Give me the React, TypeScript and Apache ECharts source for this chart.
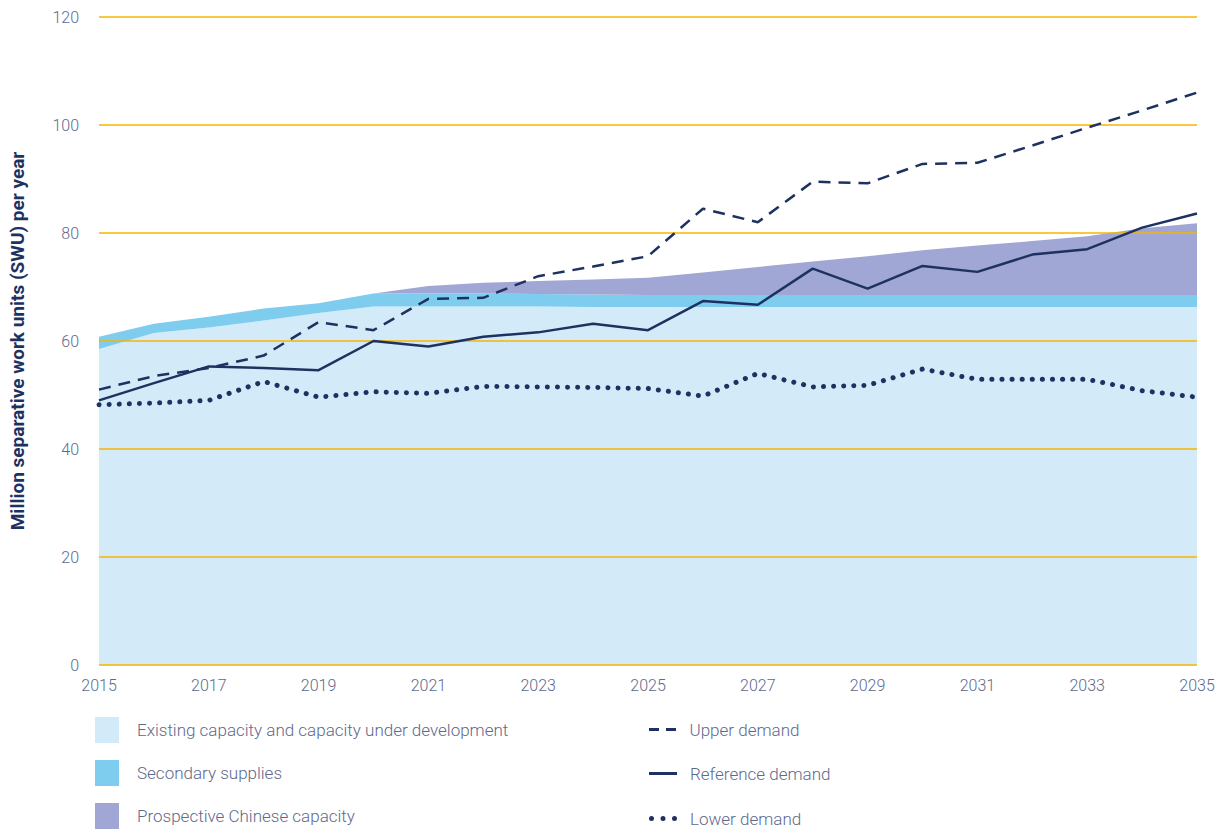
import React, { useEffect, useRef } from "react";
import * as echarts from "echarts";

const years = ["2015","2016","2017","2018","2019","2020","2021","2022","2023","2024","2025","2026","2027","2028","2029","2030","2031","2032","2033","2034","2035"];

const existingCapacity = [58.5, 61.5, 62.5, 63.8, 65.2, 66.4, 66.4, 66.4, 66.4, 66.3, 66.3, 66.3, 66.3, 66.3, 66.3, 66.3, 66.3, 66.3, 66.3, 66.3, 66.3];
const secondarySupplies = [2.3, 1.7, 2.0, 2.2, 1.8, 2.4, 2.4, 2.4, 2.3, 2.3, 2.2, 2.2, 2.2, 2.2, 2.2, 2.2, 2.2, 2.2, 2.2, 2.2, 2.2];
const chineseCapacity = [0, 0, 0, 0, 0, 0, 1.4, 2.0, 2.4, 2.8, 3.2, 4.2, 5.2, 6.2, 7.2, 8.3, 9.2, 10.0, 10.9, 12.4, 13.3];

const upperDemand = [51.0, 53.5, 55.0, 57.3, 63.5, 62.0, 67.8, 68.0, 72.0, 73.8, 75.7, 84.5, 82.0, 89.5, 89.2, 92.8, 93.0, 96.2, 99.5, 102.7, 106.0];
const referenceDemand = [49.0, 52.2, 55.3, 55.0, 54.6, 60.0, 59.0, 60.8, 61.6, 63.2, 62.0, 67.4, 66.7, 73.4, 69.7, 73.9, 72.8, 76.0, 77.0, 81.0, 83.6];
const lowerDemand = [48.2, 48.5, 49.0, 52.5, 49.6, 50.6, 50.3, 51.6, 51.5, 51.4, 51.2, 49.8, 54.0, 51.5, 51.8, 54.8, 52.9, 52.9, 52.9, 50.8, 49.6];

const yTicks = { min: 0, max: 120, interval: 20 };

const NAVY = "#1e3261";
const TEXT = "#5d6a8c";
const GRID = "#f7b500";
const FONT = "Roboto, 'Open Sans', sans-serif";

const ICON_DASH = "path://M0,0h10v3h-10zM17,0h10v3h-10z";
const ICON_SOLID = "path://M0,0h28v3h-28z";
const ICON_DOTS = "path://M0,2.5a2.5,2.5 0 1,0 5,0a2.5,2.5 0 1,0 -5,0zM11.5,2.5a2.5,2.5 0 1,0 5,0a2.5,2.5 0 1,0 -5,0zM23,2.5a2.5,2.5 0 1,0 5,0a2.5,2.5 0 1,0 -5,0z";

export default function App() {
  const ref = useRef<HTMLDivElement>(null);
  useEffect(() => {
    if (!ref.current) return;
    const chart = echarts.init(ref.current, undefined, { renderer: "svg" });
    const areaSeries = (name: string, data: number[], color: string) => ({
      name,
      type: "line",
      stack: "supply",
      data,
      symbol: "none",
      lineStyle: { width: 0 },
      itemStyle: { color },
      areaStyle: { color, opacity: 1 },
      z: 1,
    });
    const lineSeries = (name: string, data: number[], type: any, width: number, cap: string) => ({
      name,
      type: "line",
      data,
      symbol: "none",
      itemStyle: { color: NAVY },
      lineStyle: { color: NAVY, width, type, cap },
      z: 6,
    });
    const textStyle = (padLeft: number) => ({
      color: TEXT, fontSize: 17, fontFamily: FONT, fontWeight: 300, padding: [0, 0, 0, padLeft],
    });
    const boxLegend = (name: string, top: number) => ({
      left: 95, top, padding: 0, itemWidth: 24, itemHeight: 26, icon: "rect",
      textStyle: textStyle(13), data: [name], selectedMode: false,
    });
    const lineLegend = (name: string, icon: string, top: number, h: number) => ({
      left: 649, top, padding: 0, itemWidth: 28, itemHeight: h,
      textStyle: textStyle(8), data: [{ name, icon }], selectedMode: false,
      itemStyle: { color: NAVY, borderWidth: 0 }, lineStyle: { width: 0 },
    });
    chart.setOption({
      animation: false,
      grid: { left: 95, right: 25, top: 17, bottom: 165, containLabel: false },
      xAxis: {
        type: "category",
        data: years,
        boundaryGap: false,
        axisLine: { show: false },
        axisTick: { show: false },
        axisLabel: { interval: 1, color: TEXT, fontSize: 16, fontFamily: FONT, fontWeight: 300, margin: 12 },
        splitLine: { show: false },
      },
      yAxis: {
        type: "value",
        min: yTicks.min,
        max: yTicks.max,
        interval: yTicks.interval,
        z: 4,
        axisLine: { show: false },
        axisTick: { show: false },
        axisLabel: { color: TEXT, fontSize: 16, fontFamily: FONT, fontWeight: 300, margin: 20 },
        splitLine: { lineStyle: { color: GRID, width: 1.5 } },
        name: "Million separative work units (SWU) per year",
        nameLocation: "middle",
        nameGap: 72,
        nameTextStyle: { color: NAVY, fontSize: 19, fontWeight: "bold", fontFamily: FONT },
      },
      legend: [
        boxLegend("Existing capacity and capacity under development", 717),
        boxLegend("Secondary supplies", 760),
        boxLegend("Prospective Chinese capacity", 803),
        lineLegend("Upper demand", ICON_DASH, 721, 3),
        lineLegend("Reference demand", ICON_SOLID, 765, 3),
        lineLegend("Lower demand", ICON_DOTS, 810, 5),
      ],
      series: [
        areaSeries("Existing capacity and capacity under development", existingCapacity, "#d3ebf8"),
        areaSeries("Secondary supplies", secondarySupplies, "#7ecdef"),
        areaSeries("Prospective Chinese capacity", chineseCapacity, "#a1a7d4"),
        lineSeries("Upper demand", upperDemand, [12, 8], 2.5, "butt"),
        lineSeries("Reference demand", referenceDemand, "solid", 2.5, "butt"),
        lineSeries("Lower demand", lowerDemand, [0.1, 10], 5, "round"),
      ],
    });
    return () => chart.dispose();
  }, []);
  return <div ref={ref} style={{ width: 1222, height: 830, position: "absolute", left: 0, top: 0 }} />;
}
